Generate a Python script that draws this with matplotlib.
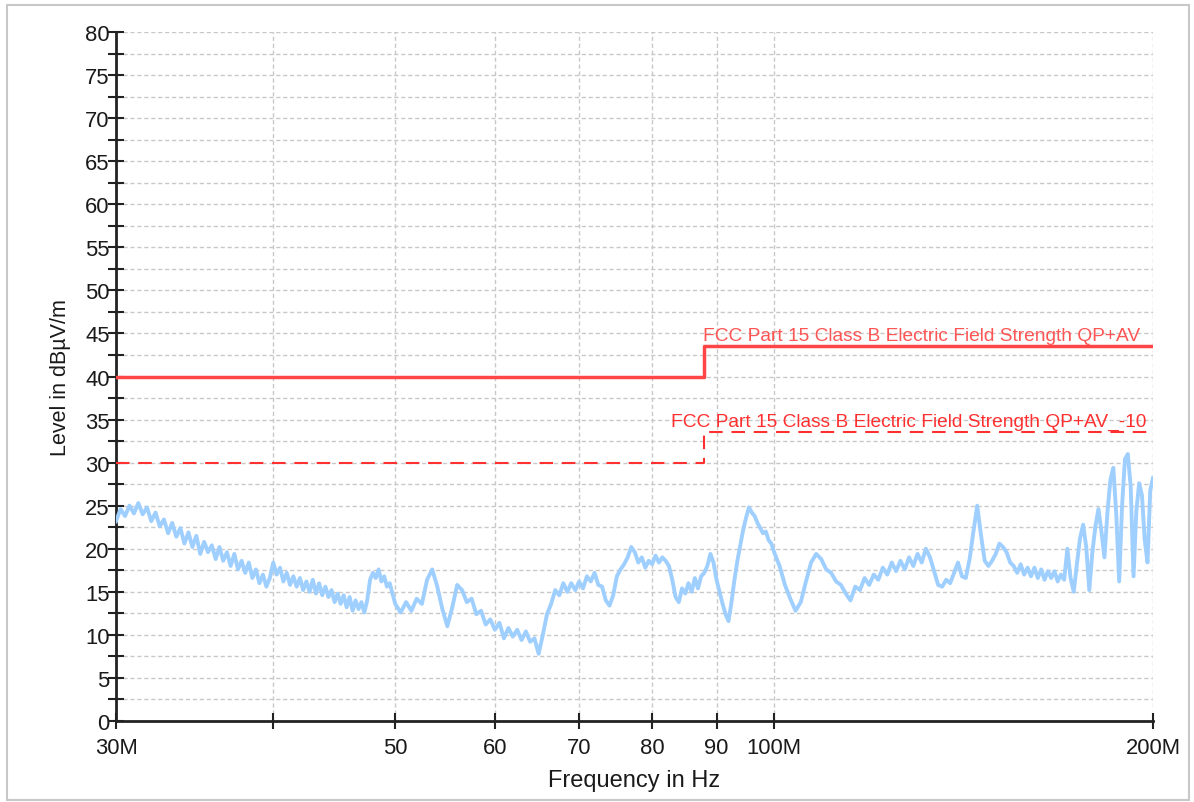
import matplotlib
matplotlib.use("Agg")
import matplotlib.pyplot as plt
from matplotlib.patches import Rectangle
from matplotlib.ticker import FixedLocator, NullFormatter

plt.rcParams['font.family'] = ['Liberation Sans', 'DejaVu Sans']

# ---- data ----
freq_low = [30.00, 30.25, 30.50, 30.75, 31.00, 31.25, 31.50, 31.75, 32.00, 32.25,
            32.50, 32.75, 33.00, 33.25, 33.50, 33.75, 34.00, 34.25, 34.50, 34.75,
            35.00, 35.25, 35.50, 35.75, 36.00, 36.25, 36.50, 36.75, 37.00, 37.25,
            37.50, 37.75, 38.00, 38.25, 38.50, 38.75, 39.00, 39.25, 39.50, 39.75,
            40.00, 40.25, 40.50, 40.75, 41.00, 41.25, 41.50, 41.75, 42.00, 42.25,
            42.50, 42.75, 43.00, 43.25, 43.50, 43.75, 44.00, 44.25, 44.50, 44.75,
            45.00, 45.25, 45.50, 45.75, 46.00, 46.25, 46.50, 46.75, 47.00, 47.25,
            47.50, 47.75, 48.00, 48.25, 48.50, 48.75, 49.00, 49.25, 49.50, 49.75,
            50.00]
level_low = [23.2, 24.6, 23.8, 25.0, 24.1, 25.3, 24.0, 24.8, 23.2, 24.2,
             22.6, 23.4, 21.8, 23.0, 21.4, 22.4, 20.6, 21.9, 20.2, 21.5,
             19.4, 20.8, 19.6, 20.4, 18.8, 20.2, 18.6, 19.6, 18.0, 19.4,
             17.6, 18.6, 17.2, 18.4, 16.6, 17.6, 16.0, 17.0, 15.6, 16.6,
             18.4, 17.0, 17.8, 16.2, 17.2, 15.8, 16.8, 15.6, 16.6, 15.2,
             16.2, 15.0, 16.4, 14.8, 16.0, 14.6, 15.6, 14.4, 15.2, 13.8,
             14.8, 13.6, 14.6, 13.2, 14.4, 12.8, 14.0, 13.0, 13.8, 12.6,
             14.0, 16.4, 17.2, 16.6, 17.6, 16.2, 16.8, 15.6, 16.0, 14.8,
             13.6]

freq_mid = [50.5, 51.0, 51.5, 52.0, 52.5, 53.0, 53.5, 54.0, 54.5, 55.0,
            55.5, 56.0, 56.5, 57.0, 57.5, 58.0, 58.5, 59.0, 59.5, 60.0,
            60.5, 61.0, 61.5, 62.0, 62.5, 63.0, 63.5, 64.0, 64.5, 65.0,
            65.5, 66.0, 66.5, 67.0, 67.5, 68.0, 68.5, 69.0, 69.5, 70.0,
            70.5, 71.0, 71.5, 72.0, 72.5, 73.0, 73.5, 74.0, 74.5, 75.0,
            75.5, 76.0, 76.5, 77.0, 77.5, 78.0, 78.5, 79.0, 79.5, 80.0,
            80.5, 81.0, 81.5, 82.0, 82.5, 83.0, 83.5, 84.0, 84.5, 85.0,
            85.5, 86.0, 86.5, 87.0, 87.5, 88.0, 88.5, 89.0, 89.5, 90.0,
            90.5, 91.0, 91.5, 92.0, 92.5, 93.0, 93.5, 94.0, 94.5, 95.0,
            95.5, 96.0, 96.5, 97.0, 97.5, 98.0, 98.5, 99.0, 99.5, 100.0]
level_mid = [12.6, 13.8, 12.8, 14.2, 13.6, 16.4, 17.6, 15.6, 13.0, 11.0,
             13.2, 15.8, 15.2, 13.8, 14.2, 12.4, 12.8, 11.2, 11.8, 10.6,
             11.4, 9.6, 10.8, 9.8, 10.6, 9.4, 10.4, 9.2, 9.6, 7.8,
             10.0, 12.4, 13.6, 15.2, 14.6, 16.0, 15.0, 16.0, 15.2, 16.2,
             15.4, 16.8, 16.2, 17.2, 15.8, 15.6, 14.0, 13.4, 14.6, 16.8,
             17.6, 18.2, 19.0, 20.2, 19.6, 18.4, 19.0, 17.8, 18.6, 18.2,
             19.2, 18.4, 19.0, 18.6, 18.0, 16.4, 14.4, 13.8, 15.4, 14.8,
             16.0, 15.0, 16.6, 15.4, 16.8, 17.2, 18.0, 19.4, 18.4, 16.4,
             15.0, 13.6, 12.4, 11.6, 13.8, 16.4, 18.6, 20.4, 22.2, 23.6,
             24.8, 24.2, 23.8, 23.0, 22.4, 21.8, 22.0, 21.0, 20.6, 19.6]

freq_high = [101, 102, 103, 104, 105, 106, 107, 108, 109, 110,
             111, 112, 113, 114, 115, 116, 117, 118, 119, 120,
             121, 122, 123, 124, 125, 126, 127, 128, 129, 130,
             131, 132, 133, 134, 135, 136, 137, 138, 139, 140,
             141, 142, 143, 144, 145, 146, 147, 148, 149, 150,
             151, 152, 153, 154, 155, 156, 157, 158, 159, 160,
             161, 162, 163, 164, 165, 166, 167, 168, 169, 170,
             171, 172, 173, 174, 175, 176, 177, 178, 179, 180,
             181, 182, 183, 184, 185, 186, 187, 188, 189, 190,
             191, 192, 193, 194, 195, 196, 197, 198, 199, 200]
level_high = [18.0, 15.8, 14.2, 12.8, 13.8, 16.2, 18.4, 19.4, 18.8, 17.6,
              17.2, 16.2, 15.8, 14.8, 14.0, 15.6, 15.2, 16.6, 15.8, 17.0,
              16.4, 17.8, 17.0, 18.4, 17.4, 18.6, 17.6, 19.0, 18.0, 19.4,
              18.4, 20.0, 19.0, 17.4, 15.8, 15.6, 16.4, 16.0, 17.2, 18.4,
              16.8, 16.6, 18.8, 22.0, 25.0, 21.6, 18.6, 18.0, 18.6, 19.4,
              20.6, 20.2, 19.6, 18.4, 18.0, 17.2, 18.2, 17.0, 17.8, 16.8,
              17.8, 16.6, 17.6, 16.4, 17.4, 16.6, 17.4, 16.2, 17.0, 16.4,
              20.0, 16.6, 15.0, 18.2, 21.2, 22.8, 20.2, 15.2, 19.6, 22.6,
              24.6, 22.0, 19.0, 24.2, 28.0, 29.4, 24.0, 16.2, 25.0, 30.4,
              31.0, 27.2, 16.8, 24.4, 27.6, 26.2, 21.0, 18.4, 26.8, 28.2]

limit_freq = [30, 88, 88, 200]
limit_qp = [40, 40, 43.5, 43.5]
limit_qp_10 = [30, 30, 33.5, 33.5]

limit_label = "FCC Part 15 Class B Electric Field Strength QP+AV"
limit_label_10 = "FCC Part 15 Class B Electric Field Strength QP+AV_-10"

xtick_vals = [30, 40, 50, 60, 70, 80, 90, 100, 200]
xtick_labels = ["30M", "", "50", "60", "70", "80", "90", "100M", "200M"]

# ---- figure ----
W, H = 1194, 803
fig = plt.figure(figsize=(W / 100, H / 100), dpi=100)
fig.patch.set_facecolor("white")
fig.patches.append(Rectangle((7 / W, 2 / H), 1182 / W, 795 / H, transform=fig.transFigure,
                             fill=False, edgecolor="#c8c8c8", linewidth=1.5))

ax = fig.add_axes([116 / W, 1 - 722 / H, (1153 - 116) / W, (722 - 33) / H])
ax.set_xscale("log")
ax.set_xlim(30, 200)
ax.set_ylim(0, 80)

freq = freq_low + freq_mid + freq_high
level = level_low + level_mid + level_high
ax.plot(freq, level, color="#9fcfff", linewidth=2.8, zorder=3)

ax.plot(limit_freq, limit_qp, color="#ff4545", linewidth=2.5, zorder=4)
ax.plot(limit_freq, limit_qp_10, color="#ff3030", linewidth=1.5,
        linestyle=(0, (6.5, 4.2)), zorder=4)

ax.text(195.3, 43.8, limit_label, color="#ff5555", fontsize=13.8,
        ha="right", va="bottom", zorder=5)
ax.text(197.5, 33.8, limit_label_10, color="#ff3030", fontsize=13.8,
        ha="right", va="bottom", zorder=5)

# ticks
ax.xaxis.set_major_locator(FixedLocator(xtick_vals))
ax.set_xticklabels(xtick_labels)
ax.xaxis.set_minor_locator(FixedLocator([]))
ax.xaxis.set_minor_formatter(NullFormatter())
ax.set_yticks(list(range(0, 81, 5)))
ax.set_yticks([i * 2.5 for i in range(33) if i % 2 == 1], minor=True)

ax.tick_params(axis="both", which="both", direction="inout", length=11, width=1.5,
               colors="#222222", labelsize=15.8, labelcolor="#1a1a1a")
ax.tick_params(axis="x", which="major", pad=6)
ax.tick_params(axis="y", which="major", pad=-1)

ax.grid(True, which="both", axis="y", color="#c8c8c8", linestyle=(0, (3, 2)), linewidth=1)
ax.grid(True, which="major", axis="x", color="#c8c8c8", linestyle=(0, (3, 2)), linewidth=1)
ax.set_axisbelow(True)

for s in ["top", "right"]:
    ax.spines[s].set_visible(False)
for s in ["left", "bottom"]:
    ax.spines[s].set_linewidth(2)
    ax.spines[s].set_color("#222222")

ax.set_xlabel("Frequency in Hz", fontsize=17, color="#1a1a1a", labelpad=8)
ax.set_ylabel("Level in dBµV/m", fontsize=15.5, color="#1a1a1a", labelpad=10)

fig.savefig("out.png", dpi=100)
